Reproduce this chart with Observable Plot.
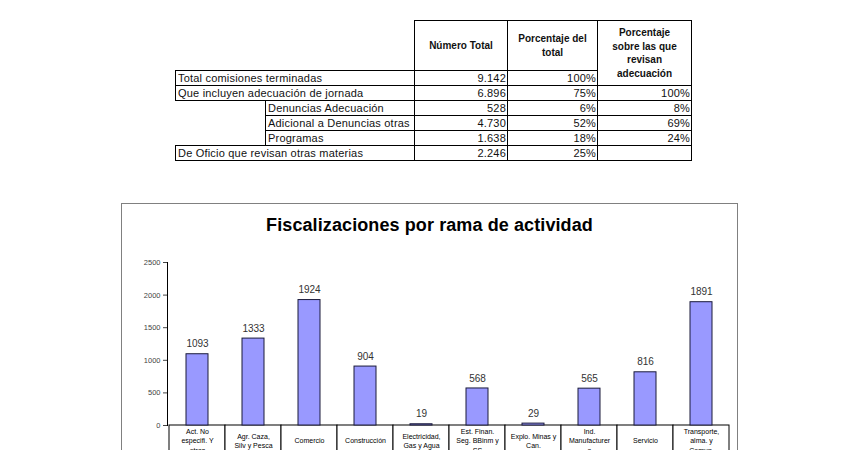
<!DOCTYPE html>
<html><head><meta charset="utf-8">
<script src="https://cdn.jsdelivr.net/npm/d3@7"></script>
<script src="https://cdn.jsdelivr.net/npm/@observablehq/plot@0.6"></script>
<style>
body{margin:0;background:#fff;width:860px;height:450px;overflow:hidden;position:relative;font-family:"Liberation Sans",Arial,sans-serif;}
#tbl{position:absolute;left:175px;top:20px;border-collapse:collapse;table-layout:fixed;font-size:11px;color:#111;letter-spacing:0.2px}
#tbl td{padding:0 0 0 2px;border:1.5px solid #000;height:14px;line-height:12px;white-space:nowrap;overflow:hidden;}
#tbl td.nb{border:none}
#tbl td.num{text-align:right;padding:0 1px 0 0}
#tbl td.hd{font-weight:bold;font-size:10px;text-align:center;line-height:13.5px;white-space:pre-line;padding:0 2px;letter-spacing:0}
#frame{position:absolute;left:121px;top:203px;width:617px;height:300px;border:1.5px solid #808080;box-sizing:border-box}
#title{position:absolute;left:121px;top:215px;width:617px;text-align:center;font-weight:bold;font-size:18px;font-family:"Liberation Sans",Arial,sans-serif;letter-spacing:0.1px}
#chart{position:absolute;left:121px;top:203px}
</style></head>
<body>
<table id="tbl">
<colgroup><col style="width:90px"><col style="width:149px"><col style="width:93px"><col style="width:90px"><col style="width:94px"></colgroup>
<tbody id="tb"></tbody>
</table>
<div id="frame"></div>
<div id="title"></div>
<div id="chart"></div>
<script>
// ---- table data ----
const headers = ["Número Total", "Porcentaje del\ntotal", "Porcentaje\nsobre las que\nrevisan\nadecuación"];
const rowLabels = ["Total comisiones terminadas", "Que incluyen adecuación de jornada", "Denuncias Adecuación", "Adicional a Denuncias otras", "Programas", "De Oficio que revisan otras materias"];
const rowIndent = [false, false, true, true, true, false];
const rowTotals = ["9.142", "6.896", "528", "4.730", "1.638", "2.246"];
const rowPctTotal = ["100%", "75%", "6%", "52%", "18%", "25%"];
const rowPctAdec = [null, "100%", "8%", "69%", "24%", ""];

// ---- chart data ----
const chartTitle = "Fiscalizaciones por rama de actividad";
const categories = ["Act. No\nespecifi. Y\notras", "Agr. Caza,\nSilv y Pesca", "Comercio", "Construcción", "Electricidad,\nGas y Agua", "Est. Finan.\nSeg. BBinm y\nSS", "Explo. Minas y\nCan.", "Ind.\nManufacturer\na", "Servicio", "Transporte,\nalma. y\nComun."];
const values = [1093, 1333, 1924, 904, 19, 568, 29, 565, 816, 1891];
const yTicks = [0, 500, 1000, 1500, 2000, 2500];

// build table
const tb = document.getElementById("tb");
let h = `<tr style="height:50px"><td class="nb" colspan="2"></td><td class="hd">${headers[0]}</td><td class="hd">${headers[1]}</td><td class="hd" rowspan="2">${headers[2]}</td></tr>`;
rowLabels.forEach((lab, i) => {
  h += "<tr>";
  h += rowIndent[i] ? `<td class="nb"></td><td>${lab}</td>` : `<td colspan="2">${lab}</td>`;
  h += `<td class="num">${rowTotals[i]}</td><td class="num">${rowPctTotal[i]}</td>`;
  if (rowPctAdec[i] !== null) h += `<td class="num">${rowPctAdec[i]}</td>`;
  h += "</tr>";
});
tb.innerHTML = h;
document.getElementById("title").textContent = chartTitle;

const data = categories.map((c, i) => ({cat: c, value: values[i]}));
const W = 616, H = 260, mT = 59, mB = 38, mL = 46, mR = 6;
const plot = Plot.plot({
  width: W, height: H, marginTop: mT, marginBottom: mB, marginLeft: mL, marginRight: mR,
  style: {fontFamily: "Liberation Sans, Arial, sans-serif", background: "transparent", overflow: "visible"},
  x: {domain: categories, padding: 0, axis: null},
  y: {domain: [0, 2500], axis: null},
  marks: [
    Plot.cell(categories, {x: d => d, fill: "white", stroke: "#000", strokeWidth: 1, insetTop: H - mT - mB, insetBottom: -(mB - 2)}),
    Plot.frame({anchor: "left", stroke: "#000", strokeWidth: 1}),
    Plot.axisY({ticks: yTicks, tickSize: 4, tickPadding: 3, fontSize: 7.5, tickFormat: d => String(d), label: null, color: "#444"}),
    Plot.barY(data, {x: "cat", y: "value", fill: "#9999ff", stroke: "#1a1a3a", strokeWidth: 1, insetLeft: 17, insetRight: 17}),
    Plot.text(data, {x: "cat", y: "value", text: d => String(d.value), dy: -10, fontSize: 10, fill: "#333", style: "letter-spacing:0.5px"}),
    Plot.text(categories, {x: d => d, text: d => d, frameAnchor: "bottom", dy: 15, lineAnchor: "middle", lineHeight: 1.3, fontSize: 7, fill: "#000"})
  ]
});
document.getElementById("chart").appendChild(plot);
</script>
</body></html>
